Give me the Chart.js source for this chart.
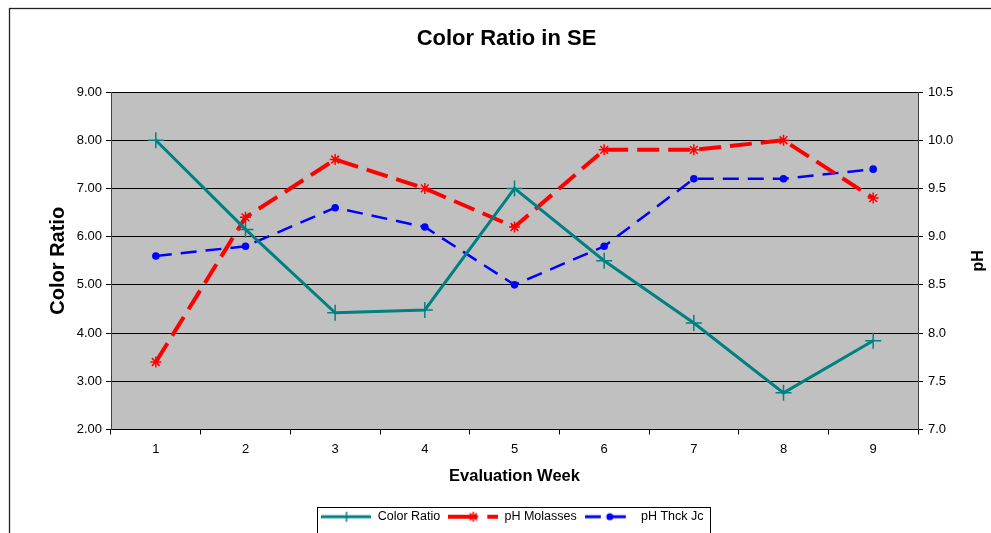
<!DOCTYPE html>
<html>
<head>
<meta charset="utf-8">
<script src="https://cdn.jsdelivr.net/npm/chart.js@4.4.1/dist/chart.umd.min.js"></script>
<style>
  html, body { margin: 0; padding: 0; background: #fff; }
  #wrap { width: 991px; height: 533px; position: relative; overflow: hidden; }
</style>
</head>
<body>
<div id="wrap"><canvas id="grafico" width="991" height="533"></canvas></div>
<script>
// datos
const semanas = ['1', '2', '3', '4', '5', '6', '7', '8', '9'];
const colorRatio = [8.0, 6.15, 4.42, 4.48, 7.0, 5.5, 4.21, 2.76, 3.84];
const phMolasses = [7.7, 9.2, 9.8, 9.5, 9.1, 9.9, 9.9, 10.0, 9.4];
const phThckJc = [8.8, 8.9, 9.3, 9.1, 8.5, 8.9, 9.6, 9.6, 9.7];
// rangos de ejes
const ejeIzq = [2, 9, 1];
const ejeDer = [7, 10.5, 0.5];

const fuente = "'Liberation Sans', Arial, sans-serif";
Chart.defaults.font.family = fuente;
Chart.defaults.color = '#000';

// muestras para la leyenda (linea + marcador)
function muestra(color, ancho, dash, marcador) {
    const c = document.createElement('canvas');
    c.width = 50; c.height = 14;
    const ctx = c.getContext('2d');
    ctx.strokeStyle = color;
    ctx.fillStyle = color;
    ctx.lineWidth = ancho;
    ctx.setLineDash(dash);
    ctx.beginPath(); ctx.moveTo(0, 7); ctx.lineTo(50, 7); ctx.stroke();
    ctx.setLineDash([]);
    ctx.lineWidth = 1.5;
    ctx.beginPath();
    if (marcador === 'cross') {
        ctx.moveTo(25, 2); ctx.lineTo(25, 12);
        ctx.moveTo(20, 7); ctx.lineTo(30, 7);
        ctx.stroke();
    } else if (marcador === 'star') {
        ctx.moveTo(25, 2); ctx.lineTo(25, 12);
        ctx.moveTo(20, 7); ctx.lineTo(30, 7);
        ctx.moveTo(21.5, 3.5); ctx.lineTo(28.5, 10.5);
        ctx.moveTo(28.5, 3.5); ctx.lineTo(21.5, 10.5);
        ctx.stroke();
    } else {
        ctx.arc(25, 7, 3.5, 0, Math.PI * 2);
        ctx.fill();
    }
    return c;
}
const muestras = [
    muestra('#008080', 3, [], 'cross'),
    muestra('#ff0000', 4, [29, 10], 'star'),
    muestra('#0000ff', 3, [16, 9], 'circle')
];

// fondo, marco y titulo derecho
const extras = {
    id: 'extras',
    beforeDraw(chart) {
        const ctx = chart.ctx;
        const a = chart.chartArea;
        ctx.save();
        ctx.fillStyle = '#fff';
        ctx.fillRect(0, 0, chart.width, chart.height);
        ctx.fillStyle = '#c0c0c0';
        ctx.fillRect(a.left, a.top, a.right - a.left, a.bottom - a.top);
        ctx.strokeStyle = '#222';
        ctx.lineWidth = 1.3;
        ctx.strokeRect(9.5, 8.5, 1100, 700);
        ctx.restore();
    },
    afterLayout(chart) {
        // Excel centra leyenda y titulo sobre todo el marco, que sigue fuera de la imagen
        chart.legend.left += 17;
        chart.legend.right += 17;
        chart.titleBlock.left += 11;
        chart.titleBlock.right += 11;
    },
    afterDraw(chart) {
        const ctx = chart.ctx;
        const a = chart.chartArea;
        ctx.save();
        ctx.font = 'bold 16px ' + fuente;
        ctx.fillStyle = '#000';
        ctx.textAlign = 'center';
        ctx.textBaseline = 'middle';
        ctx.translate(979, (a.top + a.bottom) / 2);
        ctx.rotate(-Math.PI / 2);
        ctx.fillText('pH', 0, 0);
        ctx.restore();
        // marco de la leyenda
        const hb = chart.legend.legendHitBoxes;
        if (hb && hb.length) {
            const ult = hb[hb.length - 1];
            const izq = Math.round(hb[0].left - 4) + 0.5;
            const der = Math.round(ult.left + ult.width + 6) + 0.5;
            ctx.save();
            ctx.strokeStyle = '#000';
            ctx.lineWidth = 1;
            ctx.strokeRect(izq, 507.5, der - izq, 40);
            ctx.restore();
        }
    }
};

const myChart = new Chart(document.getElementById('grafico').getContext('2d'), {
    type: 'line',
    data: {
        labels: semanas,
        datasets: [
            {
                label: 'Color Ratio',
                data: colorRatio,
                yAxisID: 'y',
                borderColor: '#008080',
                backgroundColor: '#008080',
                borderWidth: 3,
                pointStyle: 'cross',
                pointRadius: 8,
                pointBorderWidth: 1.5,
                fill: false,
                tension: 0
            },
            {
                label: 'pH Molasses',
                data: phMolasses,
                yAxisID: 'y1',
                borderColor: '#ff0000',
                backgroundColor: '#ff0000',
                borderWidth: 4,
                borderDash: [22, 9],
                pointStyle: 'star',
                pointRadius: 5.5,
                pointBorderWidth: 1.5,
                fill: false,
                tension: 0
            },
            {
                label: 'pH Thck Jc',
                data: phThckJc,
                yAxisID: 'y1',
                borderColor: '#0000ff',
                backgroundColor: '#0000ff',
                borderWidth: 2.5,
                borderDash: [16, 9],
                pointStyle: 'circle',
                pointRadius: 3.8,
                pointBorderWidth: 0,
                fill: false,
                tension: 0
            }
        ]
    },
    options: {
        responsive: false,
        animation: false,
        devicePixelRatio: 1,
        layout: { padding: 0 },
        plugins: {
            title: {
                display: true,
                text: 'Color Ratio in SE',
                color: '#000',
                font: { size: 22, weight: 'bold' },
                padding: { top: 25.5, bottom: 40.1 }
            },
            legend: {
                position: 'bottom',
                labels: {
                    usePointStyle: true,
                    pointStyleWidth: 50,
                    color: '#000',
                    font: { size: 12.5 },
                    padding: 8,
                    generateLabels(chart) {
                        const items = Chart.defaults.plugins.legend.labels.generateLabels(chart);
                        items.forEach((it, i) => { it.pointStyle = muestras[i]; });
                        return items;
                    }
                }
            },
            tooltip: { enabled: false }
        },
        scales: {
            x: {
                type: 'category',
                offset: true,
                grid: { offset: true, drawOnChartArea: false, drawTicks: true, tickLength: 5, color: '#000' },
                border: { color: '#000' },
                ticks: { color: '#000', font: { size: 13 }, padding: 7, maxRotation: 0 },
                title: {
                    display: true,
                    text: 'Evaluation Week',
                    color: '#000',
                    font: { size: 16.5, weight: 'bold' },
                    padding: { top: 0, bottom: 16.1 }
                },
                afterFit(s) { s.height = 73; }
            },
            y: {
                position: 'left',
                min: ejeIzq[0],
                max: ejeIzq[1],
                ticks: { stepSize: ejeIzq[2], color: '#000', font: { size: 13 }, padding: 4, callback: v => v.toFixed(2) },
                grid: { color: '#000', tickLength: 5 },
                border: { color: '#404040' },
                title: {
                    display: true,
                    text: 'Color Ratio',
                    color: '#000',
                    font: { size: 20, weight: 'bold' },
                    padding: { top: 46, bottom: 0 }
                },
                afterFit(s) { s.width = 111; }
            },
            y1: {
                position: 'right',
                min: ejeDer[0],
                max: ejeDer[1],
                ticks: { stepSize: ejeDer[2], color: '#000', font: { size: 13 }, padding: 5, callback: v => v.toFixed(1) },
                grid: { drawOnChartArea: false, color: '#000', tickLength: 5 },
                border: { color: '#404040' },
                afterFit(s) { s.width = 73; }
            }
        }
    },
    plugins: [extras]
});
</script>
</body>
</html>
